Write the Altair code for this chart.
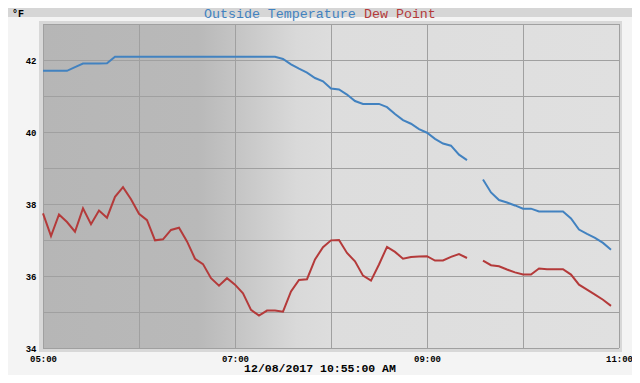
import altair as alt
import pandas as pd

# ---------------- data ----------------
times = [
    "05:00", "05:05", "05:10", "05:15", "05:20", "05:25", "05:30", "05:35", "05:40", "05:45", "05:50", "05:55",
    "06:00", "06:05", "06:10", "06:15", "06:20", "06:25", "06:30", "06:35", "06:40", "06:45", "06:50", "06:55",
    "07:00", "07:05", "07:10", "07:15", "07:20", "07:25", "07:30", "07:35", "07:40", "07:45", "07:50", "07:55",
    "08:00", "08:05", "08:10", "08:15", "08:20", "08:25", "08:30", "08:35", "08:40", "08:45", "08:50", "08:55",
    "09:00", "09:05", "09:10", "09:15", "09:20", "09:25", "09:35", "09:40", "09:45", "09:50", "09:55",
    "10:00", "10:05", "10:10", "10:15", "10:20", "10:25", "10:30", "10:35", "10:40", "10:45", "10:50", "10:55",
]

outside_temperature = [
    41.70, 41.70, 41.70, 41.70, 41.80, 41.90, 41.90, 41.90, 41.91, 42.09, 42.09, 42.09,
    42.09, 42.09, 42.09, 42.09, 42.09, 42.09, 42.09, 42.09, 42.09, 42.09, 42.09, 42.09,
    42.09, 42.09, 42.09, 42.09, 42.09, 42.09, 42.03, 41.88, 41.76, 41.65, 41.50, 41.41,
    41.21, 41.18, 41.04, 40.86, 40.78, 40.78, 40.78, 40.69, 40.50, 40.33, 40.23, 40.08,
    39.98, 39.81, 39.68, 39.62, 39.37, 39.22, 38.68, 38.32, 38.11, 38.04, 37.96,
    37.87, 37.87, 37.79, 37.79, 37.79, 37.79, 37.60, 37.29, 37.17, 37.06, 36.92, 36.73,
]

dew_point = [
    37.74, 37.11, 37.71, 37.50, 37.23, 37.88, 37.44, 37.82, 37.62, 38.20, 38.47, 38.13,
    37.73, 37.55, 36.99, 37.02, 37.28, 37.34, 36.96, 36.48, 36.33, 35.94, 35.73, 35.94,
    35.76, 35.52, 35.06, 34.90, 35.04, 35.04, 35.01, 35.57, 35.89, 35.91, 36.46, 36.80,
    36.99, 37.00, 36.64, 36.41, 36.01, 35.87, 36.32, 36.81, 36.67, 36.48, 36.53, 36.54,
    36.55, 36.43, 36.43, 36.53, 36.61, 36.50, 36.43, 36.30, 36.27, 36.18, 36.10,
    36.04, 36.04, 36.21, 36.19, 36.19, 36.19, 36.04, 35.76, 35.62, 35.48, 35.34, 35.17,
]

series_names = ["Outside Temperature", "Dew Point"]
series_colors = ["#4282c0", "#b43a3a"]

hour_grid = [5, 6, 7, 8, 9, 10, 11]
degree_grid = [34, 35, 36, 37, 38, 39, 40, 41, 42, 43]
x_tick_labels = ["05:00", "07:00", "09:00", "11:00"]
y_tick_labels = [34, 36, 38, 40, 42]
unit_label = "°F"
date_label = "12/08/2017 10:55:00 AM"

# daylight shading of the plot background (hour span, gradient stops)
shade_start = [5]
shade_end = [11]
shade_stops = [(0.0, "#b6b6b6"), (0.27, "#b9b9b9"), (0.333, "#c4c4c4"),
               (0.44, "#d9d9d9"), (0.5, "#dddddd"), (1.0, "#e0e0e0")]

# ---------------- build tables ----------------
def to_hour(t):
    h, m = t.split(":")
    return int(h) + int(m) / 60.0

hours = [to_hour(t) for t in times]
segments = []
seg = 0
for i, h in enumerate(hours):
    if i > 0 and h - hours[i - 1] > 0.1:
        seg += 1
    segments.append(seg)

rows = []
for name, vals in zip(series_names, [outside_temperature, dew_point]):
    for t, h, s, v in zip(times, hours, segments, vals):
        rows.append({"time": t, "hour": h, "series": name, "segment": f"{name}-{s}", "value": v})
df = pd.DataFrame(rows)

FONT = "Liberation Mono"
W, H = 576, 324

xscale = alt.Scale(domain=[hour_grid[0], hour_grid[-1]], nice=False, zero=False)
yscale = alt.Scale(domain=[degree_grid[0], degree_grid[-1]], nice=False, zero=False)

label_map_x = "{" + ",".join(f"'{int(to_hour(l))}':'{l}'" for l in x_tick_labels) + "}"
x_axis = alt.Axis(
    values=hour_grid, labelExpr=f"{label_map_x}[format(datum.value,'d')] || ''",
    grid=False, ticks=False, tickSize=0, domain=False, title=None,
    labelFont=FONT, labelFontWeight="bold", labelFontSize=9, labelColor="#000000",
    labelPadding=6, labelFlush=False, labelOverlap=False,
)
y_axis = alt.Axis(
    values=y_tick_labels, grid=False, ticks=False, tickSize=0, domain=False, title=None,
    labelFont=FONT, labelFontWeight="bold", labelFontSize=9, labelColor="#000000",
    labelPadding=7, labelOverlap=False,
)

one = pd.DataFrame({"k": [0]})

frame = alt.Chart(one).mark_rect(color="#d8d8d8").encode(
    x=alt.value(-4), x2=alt.value(W + 3), y=alt.value(-3), y2=alt.value(H + 4)
)
header = alt.Chart(one).mark_rect(color="#d6d6d6").encode(
    x=alt.value(-44), x2=alt.value(W + 20), y=alt.value(-24), y2=alt.value(-7)
)

shade = alt.Chart(pd.DataFrame({
    "start": shade_start, "end": shade_end,
    "lo": [degree_grid[0]], "hi": [degree_grid[-1]],
})).mark_rect(
    color=alt.LinearGradient(
        gradient="linear", x1=0, x2=1, y1=0, y2=0,
        stops=[alt.GradientStop(offset=o, color=c) for o, c in shade_stops],
    )
).encode(
    x=alt.X("start:Q", scale=xscale, axis=x_axis), x2="end:Q",
    y=alt.Y("lo:Q", scale=yscale, axis=y_axis), y2="hi:Q",
)

vgrid = alt.Chart(pd.DataFrame({"h": hour_grid})).mark_rule(
    color="#a0a0a0", strokeWidth=1, xOffset=0.5
).encode(x=alt.X("h:Q", scale=xscale, axis=x_axis))

hgrid = alt.Chart(pd.DataFrame({"d": degree_grid})).mark_rule(
    color="#a0a0a0", strokeWidth=1, yOffset=0.5
).encode(y=alt.Y("d:Q", scale=yscale, axis=y_axis))

lines = alt.Chart(df).mark_line(strokeWidth=2, interpolate="linear").encode(
    x=alt.X("hour:Q", scale=xscale, axis=x_axis),
    y=alt.Y("value:Q", scale=yscale, axis=y_axis),
    color=alt.Color("series:N", scale=alt.Scale(domain=series_names, range=series_colors), legend=None),
    detail="segment:N",
    order="hour:Q",
)

title_a = alt.Chart(one).mark_text(
    font=FONT, fontSize=13.3, align="left", baseline="middle", color=series_colors[0]
).encode(x=alt.value(161), y=alt.value(-10), text=alt.value(series_names[0]))
title_b = alt.Chart(one).mark_text(
    font=FONT, fontSize=13.3, align="left", baseline="middle", color=series_colors[1]
).encode(x=alt.value(321), y=alt.value(-10), text=alt.value(series_names[1]))
unit = alt.Chart(one).mark_text(
    font=FONT, fontSize=10, fontWeight="bold", align="left", baseline="middle", color="#000000"
).encode(x=alt.value(-31), y=alt.value(-10), text=alt.value(unit_label))
date = alt.Chart(one).mark_text(
    font=FONT, fontSize=11.5, fontWeight="bold", align="center", baseline="middle", color="#000000"
).encode(x=alt.value(277), y=alt.value(345), text=alt.value(date_label))

chart = alt.layer(
    frame, header, shade, vgrid, hgrid, lines, title_a, title_b, unit, date
).properties(
    width=W, height=H,
    padding={"left": 35, "top": 16, "right": 13, "bottom": 27},
    autosize=alt.AutoSizeParams(type="none"),
    background="#f4f4f4",
).configure_view(strokeWidth=0)

chart.save("out.html", embed_options={"renderer": "svg", "actions": False})
